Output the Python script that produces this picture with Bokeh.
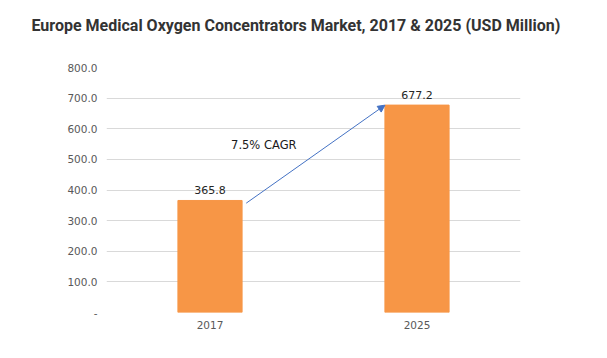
from bokeh.plotting import figure
from bokeh.models import ColumnDataSource, Range1d, FixedTicker, Arrow, NormalHead, Label, Title
from bokeh.core.properties import value
from bokeh.embed import file_html
from bokeh.resources import INLINE

years = ["2017", "2025"]
values = [365.8, 677.2]
y_ticks = [0, 100, 200, 300, 400, 500, 600, 700, 800]
cagr_text = "7.5% CAGR"
title_text = "Europe Medical Oxygen Concentrators Market, 2017 & 2025 (USD Million)"

xpos = [0.5, 1.5]

p = figure(width=591, height=342, output_backend="svg", toolbar_location=None,
           x_range=Range1d(0, 2), y_range=Range1d(0, 800),
           min_border_left=106, min_border_right=71, min_border_bottom=30, min_border_top=0)

p.title.text = title_text
p.title.text_font = "Roboto"
p.title.text_font_style = "bold"
p.title.text_font_size = "16px"
p.title.text_color = "#333333"
p.title.align = "left"
p.title.offset = -75
p.title.standoff = 27

p.add_layout(Title(text=" ", text_font_size="1px", standoff=16), "above")

src = ColumnDataSource(dict(x=xpos, top=values, label=[f"{v:.1f}" for v in values]))
p.vbar(x="x", top="top", width=0.31, source=src, color="#F79646")
p.text(x="x", y="top", text="label", source=src, text_align="center", text_baseline="bottom",
       y_offset=-6, text_font_size=value("11px"), text_color="#262626",
       text_font=value("DejaVu Sans"))

p.add_layout(Arrow(end=NormalHead(size=7, fill_color="#4472C4", line_color="#4472C4"),
                   x_start=0.675, y_start=357, x_end=1.345, y_end=677,
                   line_color="#4472C4", line_width=1))
p.add_layout(Label(x=0.76, y=547, text=cagr_text, text_align="center", text_baseline="middle",
                   text_font_size="11.5px", text_color="#1a1a1a", text_font="DejaVu Sans"))

p.xaxis.ticker = FixedTicker(ticks=xpos)
p.xaxis.major_label_overrides = {0.5: "2017", 1.5: "2025"}
p.yaxis.ticker = FixedTicker(ticks=y_ticks)
p.yaxis.major_label_overrides = {t: ("-" if t == 0 else f"{t:.1f}") for t in y_ticks}

for ax in (p.xaxis, p.yaxis):
    ax.axis_line_color = None
    ax.major_tick_line_color = None
    ax.minor_tick_line_color = None
    ax.major_tick_out = 0
    ax.major_tick_in = 0
    ax.minor_tick_out = 0
    ax.major_label_text_font = "DejaVu Sans"
    ax.major_label_text_font_size = "10.5px"
    ax.major_label_text_color = "#595959"
p.xaxis.major_label_standoff = 8
p.yaxis.major_label_standoff = 9

p.xgrid.grid_line_color = None
p.ygrid.grid_line_color = "#d9d9d9"
p.ygrid.ticker = FixedTicker(ticks=y_ticks)
p.outline_line_color = None

open("out.html", "w").write(file_html(p, INLINE))
